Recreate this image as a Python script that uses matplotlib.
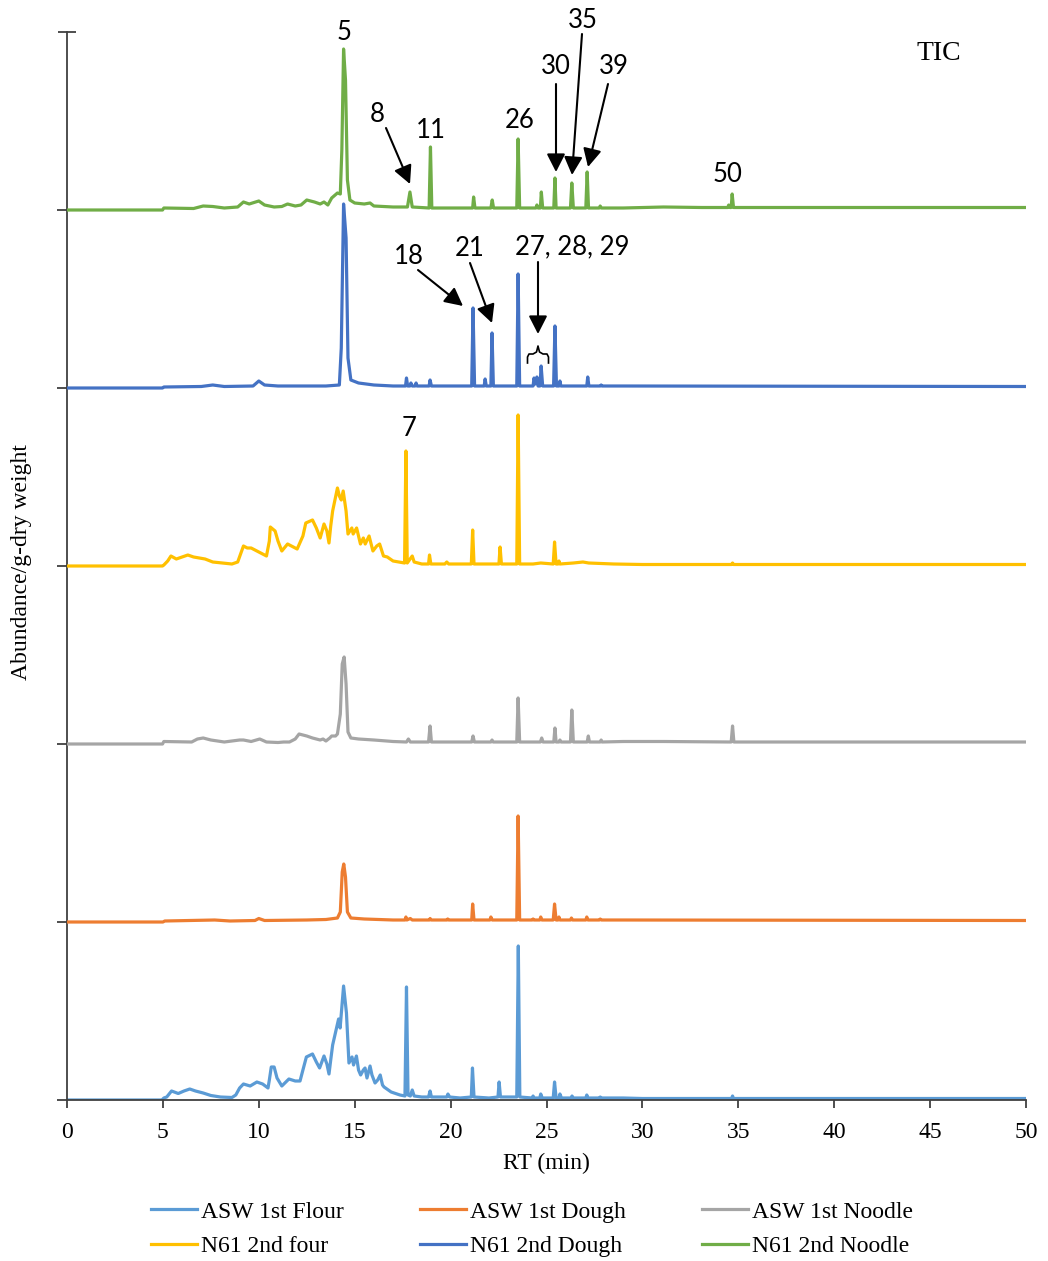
import matplotlib
matplotlib.use("Agg")
import matplotlib.pyplot as plt
from matplotlib.ticker import FixedLocator, NullFormatter

# ---------------- data (RT in min, abundance in arbitrary units) ----------------
series_names = ["ASW 1st Flour", "ASW 1st Dough", "ASW 1st Noodle",
                "N61 2nd four", "N61 2nd Dough", "N61 2nd Noodle"]
series_colors = ["#5B9BD5", "#ED7D31", "#A5A5A5", "#FFC000", "#4472C4", "#70AD47"]

asw_flour = [(0, 0), (4.95, 0), (5.05, 2), (5.2, 3), (5.45, 9), (5.8, 6.5), (6.1, 9), (6.4, 11),
             (6.7, 9), (7.1, 7), (7.5, 4.5), (8.0, 3), (8.6, 2.5), (8.8, 5), (9.0, 12), (9.2, 16),
             (9.55, 14), (9.9, 18), (10.2, 16), (10.48, 12), (10.55, 20), (10.65, 33), (10.8, 33),
             (10.95, 22), (11.2, 14), (11.57, 21), (11.9, 19), (12.15, 19), (12.3, 30), (12.48, 43),
             (12.8, 46), (13.0, 38), (13.17, 32), (13.4, 44), (13.55, 36), (13.66, 26), (13.75, 40),
             (13.85, 55), (14.16, 81), (14.24, 72), (14.42, 114), (14.57, 87), (14.7, 37), (14.86, 43),
             (14.94, 35), (15.09, 44), (15.2, 30), (15.31, 25), (15.45, 30), (15.54, 32), (15.64, 22),
             (15.8, 34), (15.9, 25), (16.06, 17), (16.2, 20), (16.33, 25), (16.45, 15), (16.53, 13),
             (16.9, 8), (17.36, 5), (17.62, 4), (17.7, 113), (17.78, 5), (17.9, 4), (18.0, 10),
             (18.1, 4), (18.5, 3), (18.85, 3), (18.93, 9), (19.0, 3), (19.8, 3), (19.86, 6),
             (19.95, 3), (20.5, 2), (21.08, 3), (21.14, 32), (21.22, 3), (22.0, 2), (22.47, 3),
             (22.53, 18), (22.6, 3), (23.45, 3), (23.53, 154), (23.61, 3), (24.25, 2), (24.3, 4),
             (24.35, 2), (24.65, 2), (24.7, 6), (24.78, 2), (25.35, 2), (25.42, 18), (25.5, 2),
             (25.65, 2), (25.7, 6), (25.78, 2), (26.28, 2), (26.33, 4), (26.4, 2), (27.05, 2),
             (27.1, 5), (27.17, 2), (27.75, 2), (27.8, 3), (27.87, 2), (29.0, 2), (30.0, 1.5),
             (34.65, 1.5), (34.7, 4), (34.75, 1.5), (40, 1.5), (50, 1.5)]

asw_dough = [(0, 0), (5, 0), (5.1, 1), (7.7, 2), (8.5, 1), (9.8, 1.5), (10.0, 3.5), (10.3, 1.5),
             (12.5, 2), (13.5, 2.5), (14.1, 4), (14.25, 10), (14.35, 50), (14.43, 58), (14.52, 45),
             (14.62, 10), (14.8, 4), (15.5, 3), (17.0, 2), (17.62, 2), (17.67, 5), (17.72, 2),
             (17.9, 3.5), (18.0, 2), (18.9, 2), (18.93, 3.5), (19.0, 2), (19.8, 2), (19.85, 3),
             (19.9, 2), (21.1, 2), (21.15, 18), (21.22, 2), (22.05, 2), (22.1, 5), (22.17, 2),
             (23.45, 2), (23.52, 106), (23.6, 2), (24.25, 2), (24.3, 3), (24.35, 2), (24.65, 2),
             (24.7, 5), (24.76, 2), (25.35, 2), (25.42, 18), (25.5, 2), (25.6, 2), (25.65, 5),
             (25.7, 2), (26.25, 2), (26.3, 4), (26.36, 2), (27.05, 2), (27.1, 5), (27.16, 2),
             (27.75, 2), (27.8, 3), (27.86, 2), (29.0, 2), (50, 1.5)]

asw_noodle = [(0, 0), (4.98, 0), (5.05, 2.5), (6.5, 2), (6.8, 5), (7.1, 6), (7.5, 4), (8.2, 2),
              (9.0, 4), (9.2, 4), (9.6, 2.5), (10.05, 5), (10.4, 2), (11.0, 1.5), (11.3, 2),
              (11.6, 2), (11.9, 5), (12.1, 10), (12.5, 8), (12.8, 6), (13.2, 4), (13.35, 5),
              (13.5, 3), (13.7, 6), (13.8, 8), (14.0, 8), (14.1, 10), (14.25, 30), (14.35, 80),
              (14.45, 87), (14.55, 60), (14.65, 12), (14.8, 6), (15.2, 5), (16.0, 4), (17.0, 2.5),
              (17.7, 2), (17.8, 5), (17.9, 2), (18.85, 2), (18.93, 18), (19.0, 2), (20.5, 2),
              (21.1, 2), (21.17, 8), (21.24, 2), (22.1, 2), (22.16, 4), (22.22, 2), (23.45, 2),
              (23.52, 46), (23.6, 2), (24.68, 2), (24.75, 6), (24.82, 2), (25.38, 2), (25.44, 16),
              (25.5, 2), (25.65, 2), (25.7, 4), (25.76, 2), (26.25, 2), (26.32, 34), (26.4, 2),
              (27.12, 2), (27.18, 8), (27.24, 2), (27.8, 2), (27.85, 4), (27.9, 2), (29.0, 2.5),
              (31.1, 2.5), (34.63, 2), (34.7, 18), (34.77, 2), (50, 2)]

n61_four = [(0, 0), (4.98, 0), (5.05, 1), (5.25, 5), (5.42, 10), (5.7, 7), (6.0, 9), (6.3, 11),
            (6.6, 9), (6.9, 8), (7.2, 7), (7.6, 4), (8.6, 2), (8.9, 4), (9.2, 20), (9.4, 18),
            (9.6, 18), (10.0, 14), (10.4, 10), (10.55, 25), (10.6, 39), (10.85, 35), (11.0, 25),
            (11.2, 15), (11.5, 22), (11.8, 19), (12.0, 17), (12.3, 30), (12.45, 43), (12.8, 46),
            (13.0, 38), (13.2, 28), (13.4, 42), (13.55, 35), (13.66, 23), (13.75, 40), (13.85, 55),
            (14.1, 78), (14.2, 70), (14.3, 66), (14.4, 75), (14.55, 55), (14.65, 32), (14.85, 38),
            (14.92, 32), (15.1, 38), (15.3, 22), (15.45, 28), (15.55, 22), (15.75, 30), (15.95, 15),
            (16.15, 20), (16.3, 22), (16.5, 10), (16.7, 9), (17.0, 5), (17.6, 3), (17.67, 115),
            (17.74, 3), (18.0, 10), (18.1, 4), (18.5, 2), (18.85, 2), (18.9, 11), (18.97, 2),
            (19.7, 2), (19.8, 4), (19.9, 2), (21.08, 2), (21.15, 36), (21.22, 2), (22.52, 2),
            (22.58, 19), (22.65, 2), (23.45, 2), (23.52, 151), (23.6, 2), (24.3, 2), (24.7, 3),
            (25.35, 2), (25.42, 24), (25.5, 2), (25.6, 2), (25.65, 5), (25.7, 2), (26.4, 3),
            (26.9, 4), (27.2, 3), (28.5, 2), (30, 1.5), (34.65, 1.5), (34.7, 3), (34.75, 1.5),
            (50, 1.5)]

n61_dough = [(0, 0), (4.98, 0), (5.05, 1), (7.0, 1.5), (7.6, 3), (8.2, 1.5), (9.7, 2), (10.0, 7),
             (10.3, 3), (11.0, 2), (13.5, 2), (14.2, 3), (14.3, 40), (14.42, 184), (14.55, 150),
             (14.65, 30), (14.8, 8), (15.2, 5), (16.0, 3), (17.0, 2), (17.65, 2), (17.7, 10),
             (17.76, 2), (17.88, 2), (17.93, 5), (18.0, 2), (18.15, 2), (18.2, 5), (18.25, 2),
             (18.88, 2), (18.93, 8), (19.0, 2), (20.0, 2), (21.1, 2), (21.17, 80), (21.25, 2),
             (21.75, 2), (21.8, 9), (21.86, 2), (22.1, 2), (22.16, 55), (22.23, 2), (22.6, 2),
             (23.45, 2), (23.52, 114), (23.6, 2), (24.3, 2), (24.35, 10), (24.42, 4), (24.5, 11),
             (24.56, 2), (24.66, 2), (24.72, 22), (24.8, 2), (25.37, 2), (25.44, 62), (25.52, 2),
             (25.65, 2), (25.7, 7), (25.75, 2), (26.3, 2), (27.1, 2), (27.15, 11), (27.21, 2),
             (27.8, 2), (27.85, 3), (27.9, 2), (29.0, 2), (50, 1.5)]

n61_noodle = [(0, 0), (4.98, 0), (5.05, 2), (6.6, 1.5), (7.1, 4), (7.6, 3.5), (8.2, 2), (8.9, 3),
              (9.2, 8), (9.5, 6), (10.0, 9), (10.3, 5), (10.8, 3), (11.2, 3.5), (11.5, 6), (11.9, 4),
              (12.2, 5), (12.5, 10), (12.9, 8), (13.2, 6), (13.4, 8), (13.6, 5), (13.8, 12),
              (14.1, 17), (14.25, 16), (14.33, 60), (14.42, 161), (14.52, 130), (14.62, 30),
              (14.75, 10), (15.0, 7), (15.5, 6), (15.8, 7), (16.0, 4), (17.0, 3), (17.75, 3),
              (17.88, 18), (18.0, 3), (18.88, 2), (18.95, 63), (19.02, 2), (21.15, 2), (21.2, 13),
              (21.27, 2), (22.1, 2), (22.17, 10), (22.24, 2), (23.45, 2), (23.52, 71), (23.6, 2),
              (24.45, 2), (24.5, 5), (24.56, 2), (24.68, 2), (24.73, 18), (24.8, 2), (25.38, 2),
              (25.44, 32), (25.5, 2), (26.25, 2), (26.32, 27), (26.4, 2), (27.05, 2), (27.12, 38),
              (27.19, 2), (27.75, 2), (27.8, 4), (27.86, 2), (29.0, 2), (31.1, 3), (33.1, 2.5),
              (34.45, 2.5), (34.5, 5), (34.57, 2.5), (34.63, 2.5), (34.68, 16), (34.75, 2.5),
              (50, 2.5)]

all_series = [asw_flour, asw_dough, asw_noodle, n61_four, n61_dough, n61_noodle]
x_ticks = [0, 5, 10, 15, 20, 25, 30, 35, 40, 45, 50]
OFFSET = 178  # vertical offset between stacked chromatograms

# ---------------- figure ----------------
SERIF = "Liberation Serif"
SANS = "Lato"
FS = 17
fig = plt.figure(figsize=(10.48, 12.61), dpi=100)
ax = fig.add_axes([67 / 1048, 1 - 1100 / 1261, 959 / 1048, 1068 / 1261])

lines = []
for i, (pts, name, col) in enumerate(zip(all_series, series_names, series_colors)):
    rt = [p[0] for p in pts]
    ab = [p[1] + i * OFFSET for p in pts]
    ln, = ax.plot(rt, ab, color=col, lw=2.3, label=name, solid_joinstyle="round", zorder=2 + i)
    lines.append(ln)

ax.set_xlim(0, 50)
ax.set_ylim(0, 6 * OFFSET)
for s in ["top", "right"]:
    ax.spines[s].set_visible(False)
for s in ["left", "bottom"]:
    ax.spines[s].set_color("#404040")
    ax.spines[s].set_linewidth(1.3)

ax.set_xticks(x_ticks)
ax.set_xticklabels([str(t) for t in x_ticks], fontfamily=SERIF, fontsize=FS)
ax.yaxis.set_major_locator(FixedLocator([i * OFFSET for i in range(6)]))
ax.yaxis.set_major_formatter(NullFormatter())
ax.yaxis.set_minor_locator(FixedLocator([6 * OFFSET]))
ax.tick_params(axis="x", direction="out", length=6, width=1.3, color="#404040", pad=10)
ax.tick_params(axis="y", which="major", direction="out", length=7, width=1.3, color="#404040")
ax.tick_params(axis="y", which="minor", direction="inout", length=13, width=1.3, color="#404040")

fig.text(546 / 1048, 1 - 1163 / 1261, "RT (min)", family=SERIF, fontsize=FS,
         ha="center", va="center")
fig.text(22 / 1048, 1 - 562 / 1261, "Abundance/g-dry weight", family=SERIF, fontsize=FS,
         rotation=90, ha="center", va="center")

# legend (row-wise order in a 3-column layout)
order = [0, 3, 1, 4, 2, 5]
fig.legend([lines[k] for k in order], [series_names[k] for k in order], ncol=3,
           loc="center", bbox_to_anchor=(532 / 1048, 1 - 1229 / 1261), frameon=False,
           prop={"family": SERIF, "size": FS}, handlelength=1.95, handletextpad=0.15,
           columnspacing=3.25, labelspacing=0.55)

# ---------------- annotations ----------------
def px(xp, yp):
    return ((xp - 67) / 19.18, (1100 - yp) / 178 * OFFSET)

lab_kw = dict(family=SANS, fontsize=18.5, ha="center", va="center", zorder=20)
for txt, (xp, yp) in [("5", (344, 32)), ("11", (431, 130)), ("26", (520, 121)),
                      ("50", (728, 174)), ("7", (409, 428)), ("8", (377, 114)),
                      ("30", (556, 67)), ("35", (583, 20)), ("39", (614, 66)),
                      ("18", (409, 256)), ("21", (470, 249)), ("27, 28, 29", (572, 247))]:
    ax.text(*px(xp, yp), txt, clip_on=False, **lab_kw)

ax.text(*px(939, 53), "TIC", family=SERIF, fontsize=20, ha="center", va="center")

arrow_kw = dict(arrowstyle="-|>,head_length=0.55,head_width=0.28", color="black", lw=1.5,
                mutation_scale=20, shrinkA=0, shrinkB=0)
for tail, tip in [((386, 128), (410, 184)), ((556, 84), (556, 172)), ((582, 34), (572, 175)),
                  ((608, 84), (588, 167)), ((418, 270), (463, 306)), ((470, 263), (492, 323)),
                  ((538, 262), (538, 334))]:
    ax.annotate("", xy=px(*tip), xytext=px(*tail), arrowprops=arrow_kw, zorder=20,
                annotation_clip=False)

# brace under "27, 28, 29"
brace_px = [(527.5, 363), (527.5, 357), (529, 354), (533, 354), (536.5, 352), (538, 346),
            (539.5, 352), (543, 354), (547, 354), (548.5, 357), (548.5, 363)]
bx = [px(a, b)[0] for a, b in brace_px]
by = [px(a, b)[1] for a, b in brace_px]
ax.plot(bx, by, color="black", lw=1.2, zorder=20)

fig.savefig("out.png", dpi=100)
